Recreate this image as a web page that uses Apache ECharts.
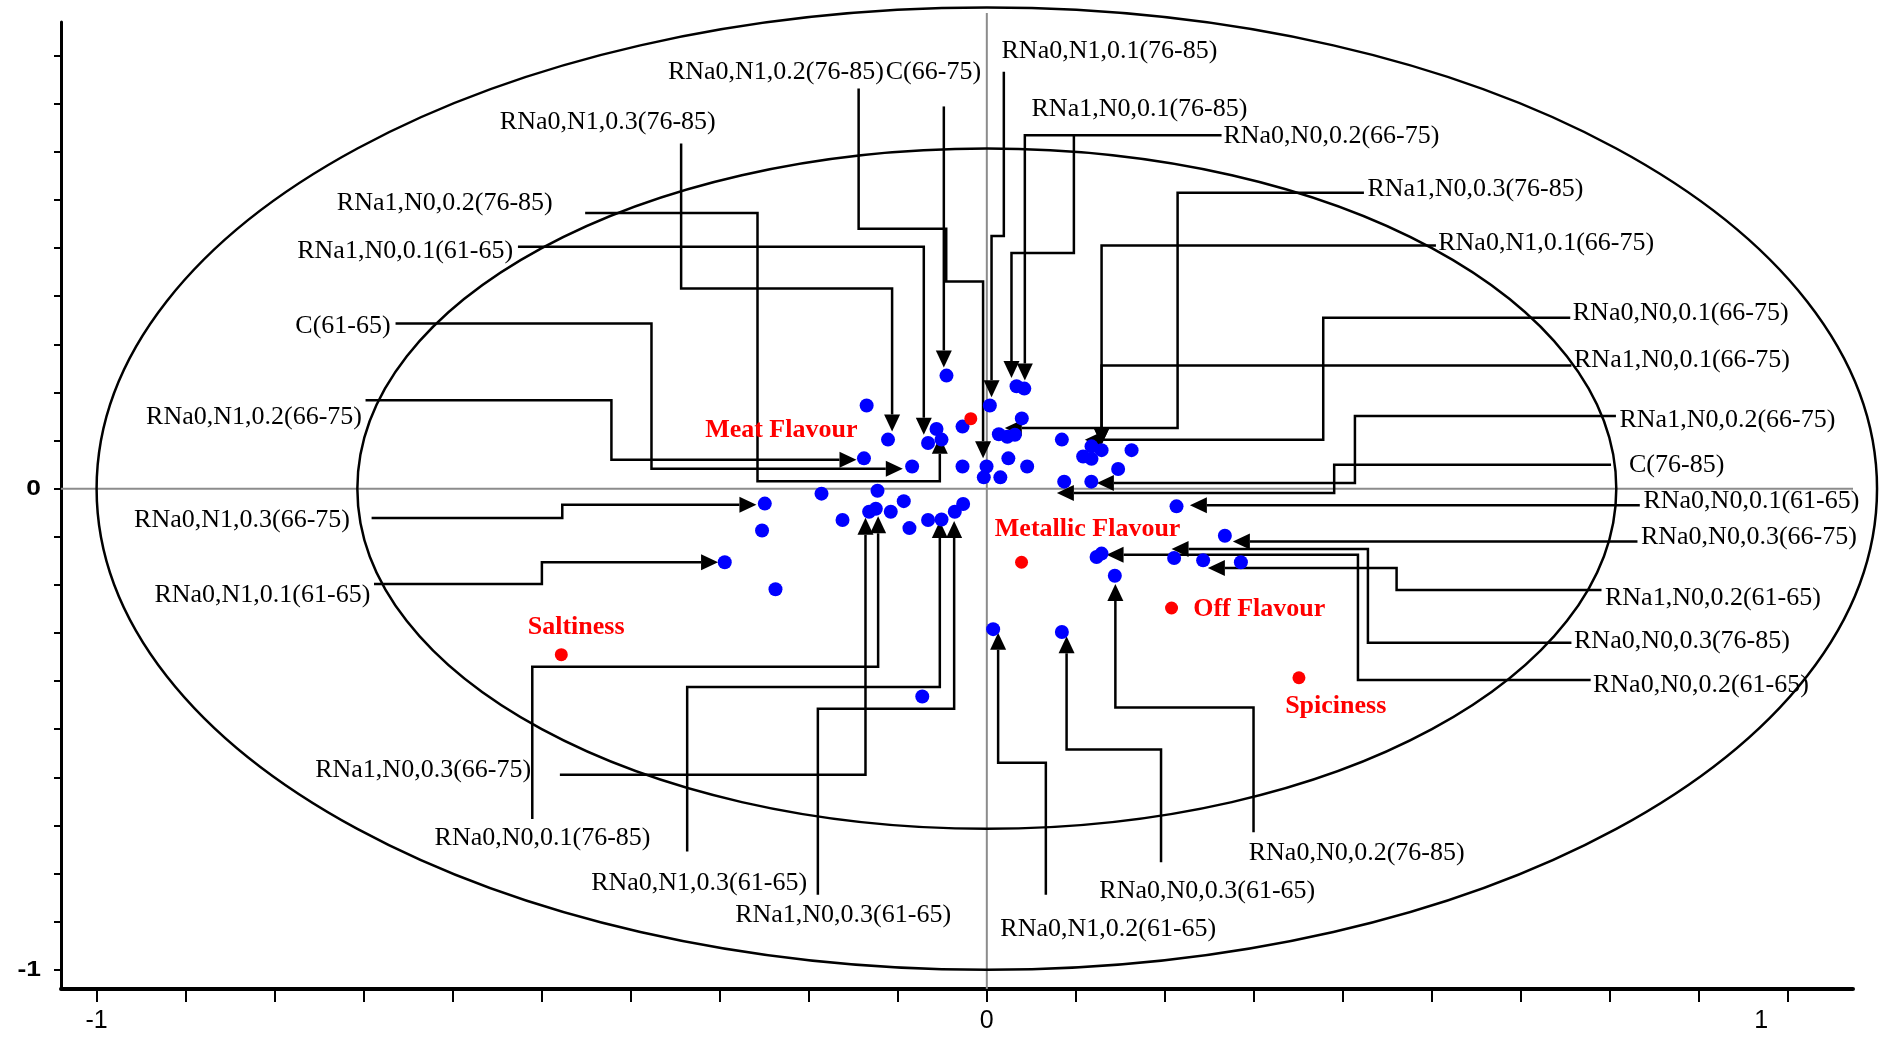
<!DOCTYPE html>
<html><head><meta charset="utf-8">
<script src="https://cdn.jsdelivr.net/npm/echarts@6/dist/echarts.min.js"></script>
<style>html,body{margin:0;padding:0;background:#fff}#c{width:1881px;height:1037px}</style>
</head><body><div id="c"></div>
<script>
// ---- axis setup ----
const xMin = -1.04, xMax = 0.973, yMin = -1.04, yMax = 0.97;
const xTickValues = [-1,-0.9,-0.8,-0.7,-0.6,-0.5,-0.4,-0.3,-0.2,-0.1,0,0.1,0.2,0.3,0.4,0.5,0.6,0.7,0.8,0.9];
const yTickValues = [-1,-0.9,-0.8,-0.7,-0.6,-0.5,-0.4,-0.3,-0.2,-0.1,0,0.1,0.2,0.3,0.4,0.5,0.6,0.7,0.8,0.9];
const xLabelValues = [-1, 0, 0.87];
const xLabelTexts = ['-1', '0', '1'];
const yLabelValues = [-1, 0];
const yLabelTexts = ['-1', '0'];
const ellipseRadii = [1, 0.7071];

// ---- samples (blue) ----
const sampleX = [-0.0453,-0.135,0.0334,0.0421,0.0034,0.0393,-0.0273,-0.0565,-0.0509,-0.066,-0.111,0.0135,0.023,0.0315,0.0843,-0.138,-0.0839,-0.0273,-0.0003,0.0242,0.0453,-0.0034,0.0152,0.0869,0.1174,0.1082,0.1176,0.1176,0.1289,0.1626,0.1475,-0.2494,-0.1857,-0.1228,-0.2525,-0.2944,-0.2374,-0.1621,-0.1322,-0.1247,-0.1079,-0.0933,-0.0869,-0.066,-0.0509,-0.036,-0.0266,0.0071,0.0843,0.1233,0.1289,0.1438,0.2131,0.2674,0.2104,0.243,0.2854,-0.0725];
const sampleY = [0.235,0.173,0.213,0.208,0.173,0.146,0.129,0.124,0.102,0.095,0.102,0.113,0.108,0.112,0.102,0.063,0.046,0.046,0.046,0.063,0.046,0.0235,0.0235,0.0146,0.0146,0.067,0.062,0.088,0.080,0.080,0.041,-0.031,-0.0104,-0.0042,-0.087,-0.153,-0.209,-0.065,-0.048,-0.0416,-0.048,-0.026,-0.082,-0.065,-0.064,-0.048,-0.032,-0.292,-0.298,-0.142,-0.135,-0.181,-0.0368,-0.098,-0.144,-0.149,-0.153,-0.432];

// ---- sensory attributes (red) ----
const attributeNames = ['Meat Flavour','Metallic Flavour','Off Flavour','Spiciness','Saltiness'];
const attributeX = [-0.018, 0.039, 0.2075, 0.3506, -0.478];
const attributeY = [0.1455, -0.153, -0.248, -0.393, -0.345];
const attributeLabelPos = [[-0.1453,0.1206,'right'],[0.009,-0.0852,'left'],[0.2318,-0.2516,'left'],[0.3919,-0.4524,'center'],[-0.4613,-0.2877,'center']];

// ---- sample labels and leader paths ----
const sampleLabels = [
 'RNa0,N1,0.1(76-85)','RNa0,N1,0.2(76-85)','C(66-75)','RNa1,N0,0.1(76-85)','RNa0,N0,0.2(66-75)',
 'RNa0,N1,0.3(76-85)','RNa1,N0,0.2(76-85)','RNa1,N0,0.1(61-65)','C(61-65)','RNa0,N1,0.2(66-75)',
 'RNa0,N1,0.3(66-75)','RNa0,N1,0.1(61-65)','RNa1,N0,0.3(66-75)','RNa0,N0,0.1(76-85)','RNa0,N1,0.3(61-65)',
 'RNa1,N0,0.3(61-65)','RNa0,N1,0.2(61-65)','RNa0,N0,0.3(61-65)','RNa0,N0,0.2(76-85)','RNa0,N0,0.2(61-65)',
 'RNa0,N0,0.3(76-85)','RNa1,N0,0.2(61-65)','RNa0,N0,0.3(66-75)','RNa0,N0,0.1(61-65)','C(76-85)',
 'RNa1,N0,0.2(66-75)','RNa1,N0,0.1(66-75)','RNa0,N0,0.1(66-75)','RNa0,N1,0.1(66-75)','RNa1,N0,0.3(76-85)'
];
const labelPos = [
 [0.0165,0.909,'left'],[-0.1157,0.865,'right'],[-0.1135,0.865,'left'],[0.0502,0.788,'left'],[0.2658,0.7325,'left'],
 [-0.3045,0.762,'right'],[-0.4876,0.5925,'right'],[-0.5321,0.4927,'right'],[-0.6697,0.3383,'right'],[-0.7019,0.1487,'right'],
 [-0.7154,-0.0657,'right'],[-0.6925,-0.2204,'right'],[-0.5119,-0.5842,'right'],[-0.4991,-0.7266,'center'],[-0.3232,-0.8191,'center'],
 [-0.1614,-0.8863,'center'],[0.1364,-0.9162,'center'],[0.2476,-0.8364,'center'],[0.4155,-0.7568,'center'],[0.6809,-0.4075,'left'],
 [0.6596,-0.3177,'left'],[0.6944,-0.2279,'left'],[0.7348,-0.1006,'left'],[0.7376,-0.0258,'left'],[0.7214,0.0489,'left'],
 [0.7107,0.1414,'left'],[0.6596,0.2661,'left'],[0.6582,0.3657,'left'],[0.5071,0.5104,'left'],[0.4276,0.6227,'left']
];
const leaderPaths = [
 [[0.0191,0.8668],[0.0191,0.5252],[0.0053,0.5252],[0.0053,0.19]],
 [[-0.144,0.8319],[-0.144,0.5401],[-0.0456,0.5401],[-0.0456,0.4304],[-0.0042,0.4304],[-0.0042,0.063]],
 [[-0.0483,0.7945],[-0.0483,0.252]],
 [[0.0978,0.7347],[0.0978,0.49],[0.0277,0.49],[0.0277,0.23]],
 [[0.2637,0.7347],[0.0427,0.7347],[0.0427,0.225]],
 [[-0.3434,0.7173],[-0.3434,0.4158],[-0.1064,0.4158],[-0.1064,0.119]],
 [[-0.4512,0.5728],[-0.2576,0.5728],[-0.2576,0.0152],[-0.0528,0.0152],[-0.0528,0.108]],
 [[-0.5267,0.503],[-0.0708,0.503],[-0.0708,0.112]],
 [[-0.6642,0.3432],[-0.3767,0.3432],[-0.3767,0.0416],[-0.0944,0.0416]],
 [[-0.6979,0.1836],[-0.4217,0.1836],[-0.4217,0.0603],[-0.1464,0.0603]],
 [[-0.6911,-0.0608],[-0.4769,-0.0608],[-0.4769,-0.0333],[-0.2588,-0.0333]],
 [[-0.6884,-0.198],[-0.4998,-0.198],[-0.4998,-0.1532],[-0.3019,-0.1532]],
 [[-0.4796,-0.5946],[-0.1363,-0.5946],[-0.1363,-0.0603]],
 [[-0.5106,-0.6867],[-0.5106,-0.3701],[-0.1221,-0.3701],[-0.1221,-0.0576]],
 [[-0.3366,-0.7541],[-0.3366,-0.4125],[-0.0528,-0.4125],[-0.0528,-0.067]],
 [[-0.1898,-0.8439],[-0.1898,-0.4574],[-0.0367,-0.4574],[-0.0367,-0.067]],
 [[0.0663,-0.8439],[0.0663,-0.5696],[0.0127,-0.5696],[0.0127,-0.2994]],
 [[0.1957,-0.7765],[0.1957,-0.5422],[0.0896,-0.5422],[0.0896,-0.307]],
 [[0.2996,-0.7142],[0.2996,-0.4549],[0.1444,-0.4549],[0.1444,-0.198]],
 [[0.6783,-0.3975],[0.4169,-0.3975],[0.4169,-0.1372],[0.1345,-0.1372]],
 [[0.6567,-0.3202],[0.4281,-0.3202],[0.4281,-0.1254],[0.2075,-0.1254]],
 [[0.6905,-0.2104],[0.4603,-0.2104],[0.4603,-0.1649],[0.2483,-0.1649]],
 [[0.7309,-0.1096],[0.2764,-0.1096]],
 [[0.7335,-0.0347],[0.2281,-0.0347]],
 [[0.7012,0.0499],[0.3902,0.0499],[0.3902,-0.0089],[0.0787,-0.0089]],
 [[0.7067,0.1512],[0.4135,0.1512],[0.4135,0.0119],[0.1236,0.0119]],
 [[0.6567,0.2559],[0.1289,0.2559],[0.1289,0.0915]],
 [[0.6554,0.3555],[0.3779,0.3555],[0.3779,0.1019],[0.1101,0.1019]],
 [[0.5045,0.5052],[0.1289,0.5052],[0.1289,0.0915]],
 [[0.4236,0.6152],[0.2143,0.6152],[0.2143,0.1262],[0.0202,0.1262]]
];

const SERIF = '"Liberation Serif","Times New Roman",serif';
const SANS = '"Liberation Sans",Arial,sans-serif';
const chart = echarts.init(document.getElementById('c'), null, {renderer: 'canvas'});

function renderFrame(params, api) {
  const c = api.coord([0, 0]);
  const children = [];
  const xl = api.coord([xMin, 0]), xr = api.coord([xMax, 0]);
  const yb = api.coord([0, yMin]), yt = api.coord([0, yMax]);
  children.push({type:'line', shape:{x1:xl[0], y1:xl[1], x2:xr[0], y2:xr[1]}, style:{stroke:'#8c8c8c', lineWidth:2}});
  children.push({type:'line', shape:{x1:yb[0], y1:yb[1], x2:yt[0], y2:yt[1] - 9}, style:{stroke:'#8c8c8c', lineWidth:2}});
  ellipseRadii.forEach(r => {
    const px = api.coord([r, 0]), py = api.coord([0, r]);
    children.push({type:'ellipse', shape:{cx:c[0], cy:c[1], rx:px[0]-c[0], ry:c[1]-py[1]}, style:{fill:'none', stroke:'#000', lineWidth:2.5}});
  });
  // axis labels (drawn at axis positions)
  const bottomY = api.coord([0, yMin])[1];
  xLabelValues.forEach((v, k) => {
    const p = api.coord([v, yMin]);
    children.push({type:'text', x:p[0], y:bottomY + 32,
      style:{text:xLabelTexts[k], font:'25px ' + SANS, fill:'#000', align:'center', verticalAlign:'middle'}});
  });
  const leftX = api.coord([xMin, 0])[0];
  yLabelValues.forEach((v, k) => {
    const p = api.coord([xMin, v]);
    children.push({type:'text', x:leftX - 20, y:p[1], scaleX:1.2,
      style:{text:yLabelTexts[k], font:'bold 22px ' + SANS, fill:'#000', align:'right', verticalAlign:'middle'}});
  });
  return {type:'group', children};
}

function renderLeader(params, api) {
  const i = params.dataIndex;
  const pts = leaderPaths[i].map(p => api.coord(p));
  const n = pts.length;
  const tip = pts[n-1], prev = pts[n-2];
  let dx = tip[0]-prev[0], dy = tip[1]-prev[1];
  const len = Math.hypot(dx, dy) || 1; dx /= len; dy /= len;
  const L = 17, W = 8;
  const base = [tip[0]-dx*L, tip[1]-dy*L];
  const line = pts.slice(0, n-1).concat([base]);
  const tri = [tip, [base[0]-dy*W, base[1]+dx*W], [base[0]+dy*W, base[1]-dx*W]];
  const a = labelPos[i];
  const ap = api.coord([a[0], a[1]]);
  return {type:'group', children:[
    {type:'polyline', shape:{points:line}, style:{stroke:'#000', lineWidth:2.5, fill:'none'}},
    {type:'polygon', shape:{points:tri}, style:{fill:'#000'}},
    {type:'text', x:ap[0], y:ap[1], style:{text:sampleLabels[i], font:'26px ' + SERIF, fill:'#000', align:a[2], verticalAlign:'middle'}}
  ]};
}

function renderAttrLabel(params, api) {
  const i = params.dataIndex;
  const a = attributeLabelPos[i];
  const ap = api.coord([a[0], a[1]]);
  return {type:'text', x:ap[0], y:ap[1], style:{text:attributeNames[i], font:'bold 26px ' + SERIF, fill:'#ff0000', align:a[2], verticalAlign:'middle'}};
}

const option = {
  animation: false,
  backgroundColor: '#ffffff',
  grid: {left: 61, right: 28, top: 22, bottom: 48},
  xAxis: {
    type: 'value', min: xMin, max: xMax,
    axisLine: {onZero: false, lineStyle: {color: '#000', width: 4}},
    axisTick: {show: true, customValues: xTickValues, length: 13, lineStyle: {color: '#000', width: 2}},
    axisLabel: {show: false},
    splitLine: {show: false}
  },
  yAxis: {
    type: 'value', min: yMin, max: yMax,
    axisLine: {onZero: false, lineStyle: {color: '#000', width: 3}},
    axisTick: {show: true, customValues: yTickValues, length: 7, lineStyle: {color: '#000', width: 2}},
    axisLabel: {show: false},
    splitLine: {show: false}
  },
  series: [
    {type: 'custom', name: 'frame', renderItem: renderFrame, data: [[0, 0]], clip: false, silent: true, z: 1},
    {type: 'custom', name: 'leaders', renderItem: renderLeader, clip: false, silent: true, z: 3,
      data: labelPos.map(p => [p[0], p[1]])},
    {type: 'scatter', name: 'samples', symbolSize: 14, itemStyle: {color: '#0000ff', opacity: 1}, z: 5,
      data: sampleX.map((x, i) => [x, sampleY[i]])},
    {type: 'scatter', name: 'attributes', symbolSize: 13, itemStyle: {color: '#ff0000', opacity: 1}, z: 6,
      data: attributeX.map((x, i) => [x, attributeY[i]])},
    {type: 'custom', name: 'attrLabels', renderItem: renderAttrLabel, clip: false, silent: true, z: 7,
      data: attributeLabelPos.map(p => [p[0], p[1]])}
  ]
};
chart.setOption(option);
</script>
</body></html>
